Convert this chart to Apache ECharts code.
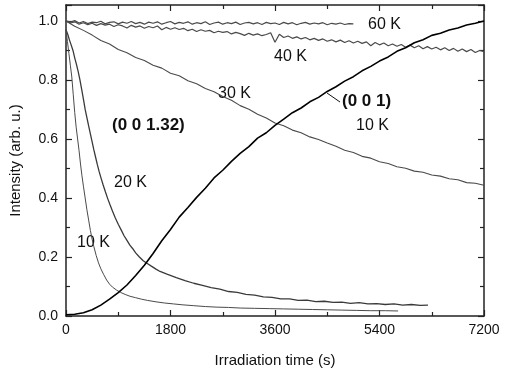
<!DOCTYPE html>
<html>
<head>
<meta charset="utf-8">
<script src="https://cdn.jsdelivr.net/npm/echarts@6/dist/echarts.min.js"></script>
<style>
  html, body { margin: 0; padding: 0; background: #fff; }
  #chart { width: 506px; height: 375px; }
</style>
</head>
<body>
<div id="chart"></div>
<script>
// tick values
var xTicks = [0, 1800, 3600, 5400, 7200];
var yTicks = [0.0, 0.2, 0.4, 0.6, 0.8, 1.0];

// 60 K, sampled every 75 s
var step60 = 75;
var v60 = [1.000,0.996,1.001,0.993,0.998,0.991,0.996,0.994,0.999,0.990,
  0.995,0.997,0.990,0.996,0.992,0.998,0.991,0.995,0.989,0.996,
  0.992,0.997,0.989,0.994,0.998,0.990,0.995,0.992,0.997,0.989,
  0.994,0.991,0.997,0.988,0.993,0.996,0.989,0.994,0.991,0.996,
  0.988,0.993,0.995,0.990,0.994,0.988,0.995,0.991,0.993,0.988,
  0.995,0.990,0.994,0.987,0.992,0.995,0.989,0.993,0.990,0.994,
  0.987,0.992,0.989,0.993,0.988,0.991,0.990];

// 40 K, every 75 s
var step40 = 75;
var v40 = [1.000,0.993,0.997,0.989,0.994,0.987,0.992,0.985,0.991,0.986,
  0.989,0.981,0.987,0.983,0.976,0.985,0.979,0.983,0.975,0.981,
  0.977,0.983,0.970,0.978,0.972,0.977,0.971,0.975,0.967,0.972,
  0.964,0.970,0.965,0.968,0.960,0.965,0.961,0.964,0.956,0.961,
  0.957,0.951,0.958,0.952,0.956,0.950,0.954,0.960,0.928,0.955,
  0.944,0.949,0.941,0.946,0.939,0.944,0.936,0.941,0.934,0.939,
  0.931,0.936,0.929,0.935,0.927,0.933,0.925,0.931,0.924,0.929,
  0.916,0.927,0.919,0.925,0.916,0.922,0.914,0.920,0.911,0.918,
  0.909,0.916,0.906,0.913,0.905,0.911,0.902,0.909,0.900,0.907,
  0.897,0.905,0.896,0.903,0.893,0.900,0.896];

// 30 K, every 150 s
var step30 = 150;
var v30 = [1.000,0.982,0.968,0.952,0.934,0.922,0.903,0.892,0.876,0.866,
  0.850,0.840,0.823,0.814,0.797,0.787,0.771,0.760,0.744,0.731,
  0.713,0.701,0.684,0.671,0.654,0.645,0.630,0.621,0.607,0.598,
  0.586,0.575,0.562,0.554,0.541,0.535,0.523,0.517,0.506,0.501,
  0.491,0.487,0.478,0.474,0.465,0.462,0.452,0.450,0.443];

// 20 K
var t20 = [0,30,60,90,120,150,180,210,240,270,300,330,360,390,420,450,480,510,540,570,
  600,640,680,720,760,800,850,900,950,1000,1050,1100,1150,1200,1260,1330,1400,1470,1550,1620,
  1750,1900,2050,2200,2350,2500,2650,2800,2950,3100,3250,3400,3550,3700,3850,4000,4150,4300,
  4450,4600,4750,4900,5050,5200,5350,5500,5650,5800,5950,6100,6235];
var v20 = [0.970,0.955,0.935,0.918,0.900,0.875,0.853,0.828,0.800,0.768,0.735,0.700,0.672,0.644,
  0.617,0.590,0.563,0.538,0.513,0.490,0.470,0.444,0.420,0.397,0.376,0.356,0.332,0.311,0.292,
  0.272,0.256,0.240,0.228,0.214,0.201,0.187,0.178,0.169,0.159,0.151,0.141,0.130,0.120,0.111,
  0.104,0.096,0.091,0.083,0.080,0.073,0.071,0.065,0.063,0.058,0.058,0.053,0.054,0.049,0.050,
  0.046,0.047,0.043,0.045,0.041,0.042,0.039,0.041,0.037,0.039,0.036,0.037];

// 10 K (0 0 1.32)
var t10 = [0,25,50,75,100,125,150,175,200,225,250,275,300,330,360,390,420,450,480,520,560,600,
  650,700,750,800,870,940,1020,1100,1200,1300,1400,1550,1700,1850,2000,2200,2400,2600,2800,
  3000,3250,3500,3750,4000,4250,4500,4750,5000,5250,5500,5720];
var v10 = [0.970,0.930,0.890,0.850,0.810,0.750,0.690,0.640,0.600,0.560,0.515,0.475,0.440,0.400,
  0.360,0.325,0.290,0.260,0.235,0.205,0.180,0.160,0.140,0.122,0.108,0.098,0.088,0.080,0.073,
  0.067,0.062,0.057,0.053,0.048,0.044,0.041,0.038,0.035,0.032,0.030,0.029,0.027,0.026,0.025,
  0.024,0.023,0.022,0.021,0.020,0.019,0.018,0.018,0.017];

// (0 0 1) 10 K, every 150 s
var step001 = 150;
var v001 = [0.004,0.006,0.011,0.021,0.037,0.057,0.079,0.105,0.137,0.172,
  0.212,0.255,0.293,0.335,0.368,0.402,0.433,0.468,0.494,0.524,
  0.551,0.574,0.603,0.621,0.646,0.667,0.689,0.705,0.726,0.741,
  0.761,0.777,0.796,0.811,0.831,0.846,0.864,0.878,0.897,0.909,
  0.926,0.936,0.951,0.958,0.969,0.976,0.986,0.992,1.000];

function byStep(vals, step) {
    return vals.map(function (v, i) { return [i * step, v]; });
}
function byTime(ts, vals) {
    return ts.map(function (t, i) { return [t, vals[i]]; });
}

var FONT = 'Liberation Sans';
var gray = '#4a4a4a';

function line(name, data, color, width) {
    return {
        name: name, type: 'line', data: data, showSymbol: false, symbol: 'none',
        xAxisIndex: 0, yAxisIndex: 0,
        lineStyle: {color: color, width: width}, z: 2
    };
}

function frameAxis(extra) {
    return Object.assign({
        axisLine: {show: true, onZero: false, lineStyle: {color: '#222', width: 1.5}},
        axisTick: {show: true, inside: true, length: 6, lineStyle: {color: '#222', width: 1.2}},
        minorTick: {show: true, splitNumber: 2, length: 4, lineStyle: {color: '#222', width: 1.2}},
        splitLine: {show: false},
        minorSplitLine: {show: false}
    }, extra);
}

var labelStyle = {fontFamily: FONT, fontSize: 16, fill: '#111'};

var option = {
    animation: false,
    backgroundColor: '#fff',
    grid: {left: 66, right: 22, top: 5, bottom: 59},
    xAxis: [
        frameAxis({
            type: 'value', min: 0, max: 7200, interval: 1800, position: 'bottom',
            name: 'Irradiation time (s)', nameLocation: 'middle', nameGap: 37,
            nameTextStyle: {fontFamily: FONT, fontSize: 15, color: '#111'},
            axisLabel: {fontFamily: FONT, fontSize: 14, color: '#111', margin: 7,
                formatter: function (v) { return xTicks.indexOf(v) >= 0 ? String(v) : ''; }}
        }),
        frameAxis({
            type: 'value', min: 0, max: 7200, interval: 1800, position: 'top',
            axisLabel: {show: false}
        })
    ],
    yAxis: [
        frameAxis({
            type: 'value', min: 0, max: 1.054, interval: 0.2, position: 'left',
            name: 'Intensity (arb. u.)', nameLocation: 'middle', nameGap: 43,
            nameTextStyle: {fontFamily: FONT, fontSize: 15, color: '#111'},
            axisLabel: {
                fontFamily: FONT, fontSize: 14, color: '#111', margin: 8, showMaxLabel: false,
                formatter: function (v) {
                    var r = Math.round(v * 10) / 10;
                    return (Math.abs(v - r) < 1e-6 && yTicks.indexOf(r) >= 0) ? r.toFixed(1) : '';
                }
            }
        }),
        frameAxis({
            type: 'value', min: 0, max: 1.054, interval: 0.2, position: 'right',
            axisLabel: {show: false}
        })
    ],
    series: [
        line('60 K', byStep(v60, step60), gray, 1.2),
        line('40 K', byStep(v40, step40), gray, 1.2),
        line('30 K', byStep(v30, step30), gray, 1.1),
        line('20 K', byTime(t20, v20), '#3a3a3a', 1.3),
        line('10 K', byTime(t10, v10), gray, 1),
        line('(0 0 1) 10 K', byStep(v001, step001), '#000', 1.6)
    ],
    graphic: [
        {type: 'text', left: 368, top: 17, style: Object.assign({text: '60 K'}, labelStyle)},
        {type: 'text', left: 274, top: 49, style: Object.assign({text: '40 K'}, labelStyle)},
        {type: 'text', left: 218, top: 86, style: Object.assign({text: '30 K'}, labelStyle)},
        {type: 'text', left: 112, top: 117, style: Object.assign({}, labelStyle, {text: '(0 0 1.32)', fontWeight: 'bold', fontSize: 17})},
        {type: 'text', left: 114, top: 175, style: Object.assign({text: '20 K'}, labelStyle)},
        {type: 'text', left: 77, top: 235, style: Object.assign({text: '10 K'}, labelStyle)},
        {type: 'text', left: 342, top: 93, style: Object.assign({}, labelStyle, {text: '(0 0 1)', fontWeight: 'bold', fontSize: 17})},
        {type: 'text', left: 356, top: 118, style: Object.assign({text: '10 K'}, labelStyle)},
        {type: 'line', shape: {x1: 327, y1: 93, x2: 340, y2: 102}, style: {stroke: '#111', lineWidth: 1}}
    ]
};

var myChart = echarts.init(document.getElementById('chart'));
myChart.setOption(option);
</script>
</body>
</html>
